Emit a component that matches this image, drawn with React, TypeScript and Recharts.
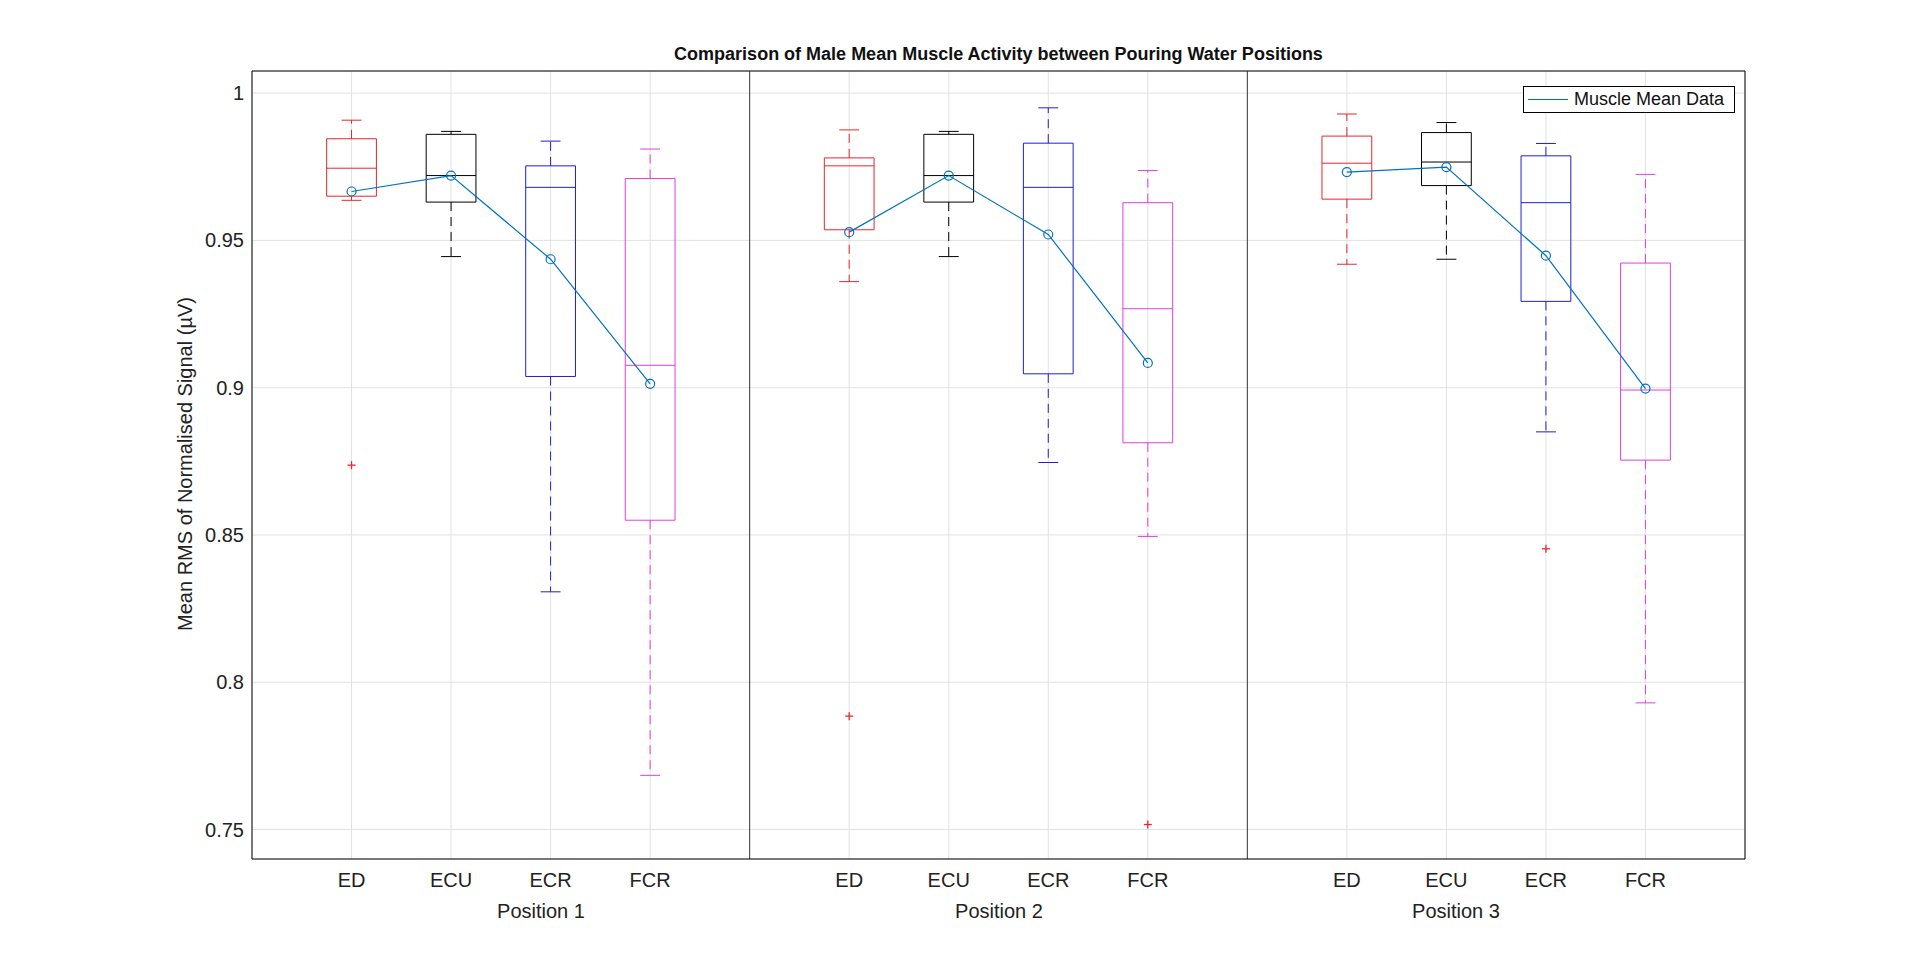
import { ComposedChart, XAxis, YAxis, CartesianGrid, ReferenceArea, ReferenceLine, Scatter } from 'recharts';

const positions = ['Position 1', 'Position 2', 'Position 3'];
const muscles = ['ED', 'ECU', 'ECR', 'FCR'];
const COLORS = ['#e8262b', '#000000', '#1f1fd0', '#e33de3'];
const OUTLIER_COLOR = '#e8262b';

// per box, order: P1 ED..FCR, P2 ED..FCR, P3 ED..FCR
const upperWhisker = [0.9908, 0.987, 0.9837, 0.981, 0.9875, 0.987, 0.995, 0.9737, 0.9929, 0.99, 0.9829, 0.9724];
const q3 = [0.9845, 0.986, 0.9753, 0.971, 0.978, 0.986, 0.983, 0.9628, 0.9854, 0.9866, 0.9787, 0.9423];
const medians = [0.9745, 0.972, 0.968, 0.9076, 0.9753, 0.972, 0.968, 0.9268, 0.9762, 0.9766, 0.9628, 0.8992];
const q1 = [0.965, 0.963, 0.9038, 0.855, 0.9536, 0.963, 0.9047, 0.8813, 0.964, 0.9686, 0.9293, 0.8754];
const lowerWhisker = [0.9636, 0.9445, 0.8307, 0.7684, 0.936, 0.9445, 0.8746, 0.8495, 0.9419, 0.9436, 0.885, 0.793];
const means = [0.9666, 0.972, 0.9436, 0.9013, 0.9528, 0.972, 0.952, 0.9084, 0.9732, 0.9749, 0.9448, 0.8997];
const outliers = [
  { box: 0, y: 0.8737 },
  { box: 4, y: 0.7885 },
  { box: 7, y: 0.7517 },
  { box: 10, y: 0.8453 },
];
const yTicks = [0.75, 0.8, 0.85, 0.9, 0.95, 1];

const boxX = (b: number) => Math.floor(b / 4) * 5 + (b % 4) + 1;
const boxes = upperWhisker.map((_, b) => ({ b, x: boxX(b), color: COLORS[b % 4] }));
const meanGroups = positions.map((_, g) =>
  boxes.filter((bx) => Math.floor(bx.b / 4) === g).map((bx) => ({ x: bx.x, y: means[bx.b] }))
);
const outlierData = outliers.map((o) => ({ x: boxX(o.box), y: o.y }));

const font = 'Arial, "Liberation Sans", Helvetica, sans-serif';

const Plus = (props: any) => {
  const { cx, cy } = props;
  return (
    <g stroke={OUTLIER_COLOR} strokeWidth={1.3}>
      <line x1={cx - 4} x2={cx + 4} y1={cy} y2={cy} />
      <line x1={cx} x2={cx} y1={cy - 4} y2={cy + 4} />
    </g>
  );
};

const Ring = (props: any) => (
  <circle cx={props.cx} cy={props.cy} r={4.5} fill="none" stroke="#0072BD" strokeWidth={1.2} />
);

export default function App() {
  return (
    <div style={{ position: 'absolute', left: 0, top: 0, width: 1920, height: 963, background: '#fff', fontFamily: font }}>
      <ComposedChart width={1920} height={963} margin={{ top: 71, right: 175, bottom: 74, left: 192 }}>
        <CartesianGrid stroke="#e2e2e2" />
        <XAxis
          type="number"
          dataKey="x"
          domain={[0, 15]}
          ticks={boxes.map((b) => b.x)}
          tickFormatter={(v: number) => muscles[(v - 1) % 5]}
          interval={0}
          allowDataOverflow
          stroke="#000"
          tickLine={false}
          height={30}
          tick={{ fontSize: 20, fill: '#222', fontFamily: font, dy: 6 }}
        />
        <YAxis
          type="number"
          dataKey="y"
          domain={[0.74, 1.0075]}
          ticks={yTicks}
          allowDataOverflow
          tickFormatter={(v: number) => String(Math.round(v * 100) / 100)}
          stroke="#000"
          tickLine={false}
          width={60}
          tick={{ fontSize: 20, fill: '#222', fontFamily: font }}
        />
        <ReferenceLine y={1.0075} stroke="#000" ifOverflow="visible" />
        <ReferenceLine x={15} stroke="#000" ifOverflow="visible" />
        <ReferenceLine x={5} stroke="#333" />
        <ReferenceLine x={10} stroke="#333" />
        {boxes.map(({ b, x, color }) => [
          <ReferenceLine key={`uw${b}`} segment={[{ x, y: q3[b] }, { x, y: upperWhisker[b] }]} stroke={color} strokeDasharray="9 6" />,
          <ReferenceLine key={`lw${b}`} segment={[{ x, y: q1[b] }, { x, y: lowerWhisker[b] }]} stroke={color} strokeDasharray="9 6" />,
          <ReferenceLine key={`uc${b}`} segment={[{ x: x - 0.1, y: upperWhisker[b] }, { x: x + 0.1, y: upperWhisker[b] }]} stroke={color} />,
          <ReferenceLine key={`lc${b}`} segment={[{ x: x - 0.1, y: lowerWhisker[b] }, { x: x + 0.1, y: lowerWhisker[b] }]} stroke={color} />,
          <ReferenceArea key={`bx${b}`} x1={x - 0.25} x2={x + 0.25} y1={q1[b]} y2={q3[b]} fill="#fff" fillOpacity={0} stroke={color} strokeWidth={1} />,
          <ReferenceLine key={`md${b}`} segment={[{ x: x - 0.25, y: medians[b] }, { x: x + 0.25, y: medians[b] }]} stroke={color} />,
        ])}
        <Scatter data={outlierData} dataKey="y" shape={<Plus />} isAnimationActive={false} />
        {meanGroups.map((g, i) => (
          <Scatter key={i} data={g} dataKey="y" line={{ stroke: '#0072BD', strokeWidth: 1.2 }} shape={<Ring />} isAnimationActive={false} />
        ))}
      </ComposedChart>

      <div style={{ position: 'absolute', top: 44, left: 252, width: 1493, textAlign: 'center', fontSize: 18, fontWeight: 'bold', color: '#111' }}>
        Comparison of Male Mean Muscle Activity between Pouring Water Positions
      </div>
      <div style={{ position: 'absolute', left: 185, top: 464, transform: 'translate(-50%, -50%) rotate(-90deg)', whiteSpace: 'nowrap', fontSize: 20, color: '#222' }}>
        Mean RMS of Normalised Signal (µV)
      </div>
      {positions.map((p, i) => (
        <div key={p} style={{ position: 'absolute', top: 900, left: [541, 999, 1456][i], transform: 'translateX(-50%)', fontSize: 20, color: '#222', whiteSpace: 'nowrap' }}>
          {p}
        </div>
      ))}
      <div style={{ position: 'absolute', left: 1523, top: 86, width: 210, height: 25, border: '1px solid #000', background: '#fff', display: 'flex', alignItems: 'center', fontSize: 18, color: '#111' }}>
        <span style={{ display: 'inline-block', width: 40, height: 1, background: '#0072BD', margin: '0 6px 0 4px' }} />
        Muscle Mean Data
      </div>
    </div>
  );
}
